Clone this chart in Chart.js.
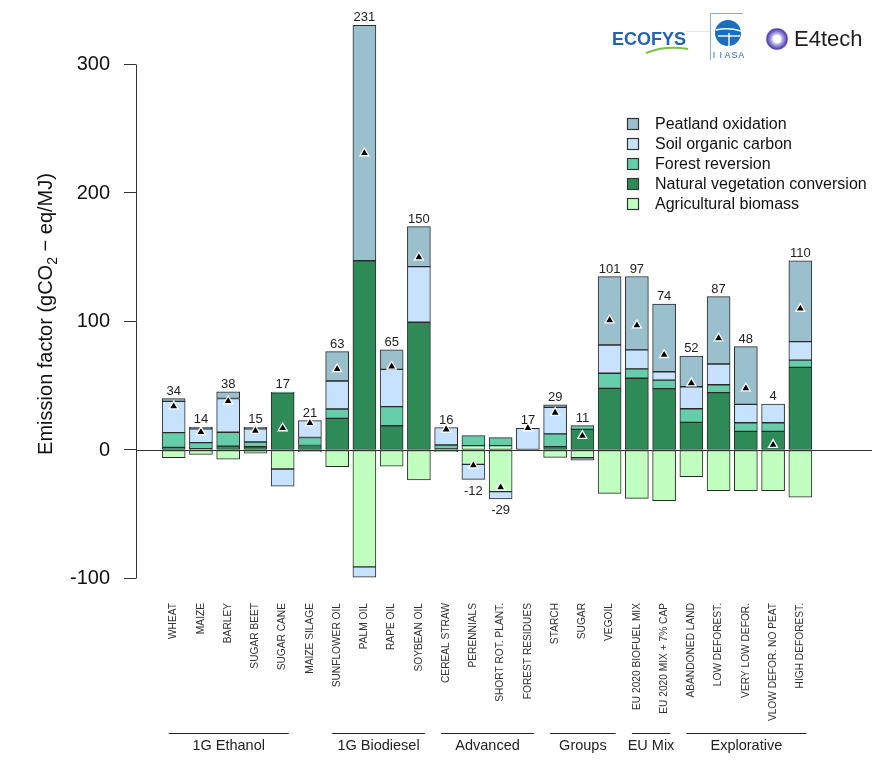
<!DOCTYPE html>
<html><head><meta charset="utf-8">
<script src="https://cdn.jsdelivr.net/npm/chart.js@4.4.0/dist/chart.umd.min.js"></script>
<style>html,body{margin:0;padding:0;background:#fff}#wrap{width:894px;height:763px;position:relative}</style>
</head><body><div id="wrap"><canvas id="c"></canvas></div>
<script>
const categories = ["WHEAT","MAIZE","BARLEY","SUGAR BEET","SUGAR CANE","MAIZE SILAGE","SUNFLOWER OIL","PALM OIL","RAPE OIL","SOYBEAN OIL","CEREAL STRAW","PERENNIALS","SHORT ROT. PLANT.","FOREST RESIDUES","STARCH","SUGAR","VEGOIL","EU 2020 BIOFUEL MIX","EU 2020 MIX + 7% CAP","ABANDONED LAND","LOW DEFOREST.","VERY LOW DEFOR.","VLOW DEFOR. NO PEAT","HIGH DEFOREST."];
const agriculturalBiomass = [-6.0,-3.4,-7.2,-2.4,-14.8,-1.3,-13.0,-91.0,-12.5,-23.3,-1.3,-11.2,-32.4,null,-5.7,-6.0,-33.7,-37.6,-39.4,-20.8,-31.6,-31.6,-31.6,-36.8];
const agriculturalBiomassGain = [null,null,null,null,null,null,null,null,null,null,null,3.4,3.4,null,null,null,null,null,null,null,null,null,null,null];
const naturalVegetationConversion = [2.0,1.0,3.0,2.5,44.5,3.5,24.6,147.3,18.9,99.4,0.8,null,null,null,2.6,16.0,48.0,55.8,47.7,21.5,44.6,14.5,14.5,64.3];
const forestReversion = [11.5,4.7,10.8,3.7,0.6,6.2,7.3,null,14.8,null,3.1,7.8,6.2,null,9.9,3.0,11.7,7.3,6.7,10.6,6.2,6.7,6.7,5.7];
const soilOrganicCarbon = [24.3,10.8,26.3,10.3,-13.3,13.1,21.8,-8.0,29.1,43.3,13.5,-11.7,-5.7,16.9,20.8,-2.0,22.0,14.8,6.5,17.1,16.1,14.3,14.5,14.3];
const peatlandOxidation = [2.2,1.3,5.2,1.2,null,null,22.8,183.2,15.2,31.1,null,null,null,null,1.8,null,53.2,57.1,52.7,23.9,52.4,44.9,null,63.0];
const netValues = [34,14,38,15,17,21,63,231,65,150,16,-12,-29,17,29,11,101,97,74,52,87,48,4,110];
const yTickValues = [-100,0,100,200,300];
const groupNames = ["1G Ethanol","1G Biodiesel","Advanced","Groups","EU Mix","Explorative"];
const groupStart = [0,6,10,14,17,19];
const groupEnd = [4,9,13,16,18,23];
const legendNames = ["Peatland oxidation","Soil organic carbon","Forest reversion","Natural vegetation conversion","Agricultural biomass"];

const COL = {peat:'#9AC0CD', soil:'#C6E2FF', forest:'#66CDAA', natveg:'#2E8B57', agri:'#C1FFC1'};
const legendColors = [COL.peat, COL.soil, COL.forest, COL.natveg, COL.agri];
const FONT = '"Liberation Sans", Arial, sans-serif';
const seriesAll = [agriculturalBiomass, agriculturalBiomassGain, naturalVegetationConversion, forestReversion, soilOrganicCarbon, peatlandOxidation];

function toPts(arr){ return arr.map((v,i)=>({x:i,y:v})).filter(d=>d.y!==null); }
function mkBar(label, arr, color){
  return {label, data: toPts(arr), backgroundColor: color, borderColor:'#2a2a2a', borderWidth:1,
    borderSkipped:false, barThickness:23, clip:false};
}

const decor = {
  id:'decor',
  beforeDatasetDraw(chart, args){
    if (args.meta.type !== 'scatter') return;
    const {ctx, chartArea:a, scales:{y}} = chart;
    const y0 = Math.round(y.getPixelForValue(0)) + 0.5;
    ctx.save(); ctx.strokeStyle='#333'; ctx.lineWidth=1.2;
    ctx.beginPath(); ctx.moveTo(a.left, y0); ctx.lineTo(a.right, y0); ctx.stroke(); ctx.restore();
  },
  afterDraw(chart){
    const {ctx, chartArea:a, scales:{x, y}} = chart;
    ctx.save();
    // y axis line
    ctx.strokeStyle='#333'; ctx.lineWidth=1;
    ctx.beginPath();
    ctx.moveTo(a.left+0.5, y.getPixelForValue(yTickValues[yTickValues.length-1]));
    ctx.lineTo(a.left+0.5, y.getPixelForValue(yTickValues[0]));
    ctx.stroke();
    // net labels
    ctx.fillStyle='#222'; ctx.font='13px '+FONT; ctx.textAlign='center';
    netValues.forEach((n,i)=>{
      let pos=0, neg=0;
      seriesAll.forEach(s=>{ const v=s[i]; if(v!==null){ if(v>0) pos+=v; else neg+=v; } });
      const px = x.getPixelForValue(i);
      if (n >= 0){ ctx.textBaseline='alphabetic'; ctx.fillText(String(n), px, y.getPixelForValue(pos)-4); }
      else { ctx.textBaseline='top'; ctx.fillText(String(n), px, y.getPixelForValue(neg)+5); }
    });
    // groups
    ctx.strokeStyle='#222'; ctx.lineWidth=1.2; ctx.font='14.5px '+FONT; ctx.textBaseline='middle';
    groupNames.forEach((g,k)=>{
      const x1 = x.getPixelForValue(groupStart[k]) - 5, x2 = x.getPixelForValue(groupEnd[k]) + 6;
      ctx.beginPath(); ctx.moveTo(x1, 733.5); ctx.lineTo(x2, 733.5); ctx.stroke();
      ctx.fillText(g, (x1+x2)/2, 746);
    });
    // legend
    ctx.textAlign='left'; ctx.font='16px '+FONT; ctx.fillStyle='#111';
    legendNames.forEach((nm,k)=>{
      const cy = 124 + k*20;
      ctx.fillStyle=legendColors[k]; ctx.fillRect(627, cy-6, 12, 12);
      ctx.strokeStyle='#333'; ctx.lineWidth=1.2; ctx.strokeRect(627.5, cy-5.5, 11, 11);
      ctx.fillStyle='#111'; ctx.fillText(nm, 655, cy+1);
    });
    // y axis title
    ctx.save();
    ctx.translate(45, 314); ctx.rotate(-Math.PI/2);
    const p1='Emission factor (gCO', p2='2', p3=' \u2212 eq/MJ)';
    ctx.font='20px '+FONT; const w1=ctx.measureText(p1).width, w3=ctx.measureText(p3).width;
    ctx.font='14px '+FONT; const w2=ctx.measureText(p2).width;
    let sx = -(w1+w2+w3)/2;
    ctx.fillStyle='#111'; ctx.textAlign='left'; ctx.textBaseline='alphabetic';
    ctx.font='20px '+FONT; ctx.fillText(p1, sx, 7); sx+=w1;
    ctx.font='14px '+FONT; ctx.fillText(p2, sx, 12); sx+=w2;
    ctx.font='20px '+FONT; ctx.fillText(p3, sx, 7);
    ctx.restore();
    // logos
    ctx.textBaseline='middle'; ctx.textAlign='left';
    ctx.fillStyle='#2262b4'; ctx.font='bold 18px '+FONT; ctx.fillText('ECOFYS', 612, 40);
    ctx.strokeStyle='#7cc242'; ctx.lineWidth=2;
    ctx.beginPath(); ctx.moveTo(646, 53); ctx.quadraticCurveTo(665, 45, 688, 49); ctx.stroke();
    ctx.strokeStyle='#dfe6ee'; ctx.lineWidth=1;
    ctx.beginPath(); ctx.moveTo(686, 31.5); ctx.lineTo(710, 31.5); ctx.stroke();
    ctx.strokeStyle='#7fb0dc'; ctx.lineWidth=1;
    ctx.beginPath(); ctx.moveTo(710.5, 60); ctx.lineTo(710.5, 13.5); ctx.lineTo(743, 13.5); ctx.stroke();
    ctx.fillStyle='#1a6dc4'; ctx.beginPath(); ctx.arc(728, 33, 13, 0, Math.PI*2); ctx.fill();
    ctx.strokeStyle='#fff'; ctx.lineWidth=1.4;
    ctx.beginPath(); ctx.moveTo(716, 30); ctx.quadraticCurveTo(728, 27, 741, 31); ctx.stroke();
    ctx.beginPath(); ctx.moveTo(718, 36); ctx.lineTo(740, 36); ctx.stroke();
    ctx.beginPath(); ctx.moveTo(729, 33); ctx.lineTo(729, 46); ctx.stroke();
    ctx.fillStyle='#1a6dc4'; ctx.font='9px '+FONT; ctx.textAlign='center';
    ['I','I','A','S','A'].forEach((c,k)=>ctx.fillText(c, 714 + k*6.8, 56));
    const grd = ctx.createRadialGradient(777, 39, 3, 777, 39, 12);
    grd.addColorStop(0,'#ffffff'); grd.addColorStop(0.45,'#8f86d8'); grd.addColorStop(0.8,'#4b3fa6'); grd.addColorStop(1,'rgba(255,255,255,0)');
    ctx.fillStyle=grd; ctx.beginPath(); ctx.arc(777, 39, 12, 0, Math.PI*2); ctx.fill();
    ctx.fillStyle='#fff'; ctx.beginPath(); ctx.arc(777, 39, 4, 0, Math.PI*2); ctx.fill();
    ctx.textAlign='left'; ctx.fillStyle='#1e1e1e'; ctx.font='22px '+FONT; ctx.fillText('E4tech', 794, 40);
    ctx.restore();
  }
};

new Chart(document.getElementById('c'), {
  type:'bar',
  data:{ datasets:[
    mkBar('Agricultural biomass', agriculturalBiomass, COL.agri),
    mkBar('Agricultural biomass', agriculturalBiomassGain, COL.agri),
    mkBar('Natural vegetation conversion', naturalVegetationConversion, COL.natveg),
    mkBar('Forest reversion', forestReversion, COL.forest),
    mkBar('Soil organic carbon', soilOrganicCarbon, COL.soil),
    mkBar('Peatland oxidation', peatlandOxidation, COL.peat),
    {type:'scatter', label:'Net', data: netValues.map((v,i)=>({x:i,y:v})), pointStyle:'triangle',
     pointRadius:5.2, pointHoverRadius:5.2, backgroundColor:'#000', borderColor:'#fff', borderWidth:1.3,
     order:-1, stack:'net', clip:false}
  ]},
  options:{
    responsive:true, maintainAspectRatio:false, animation:false, events:[],
    layout:{padding:{top:28,left:0,right:22,bottom:0}},
    plugins:{legend:{display:false}, tooltip:{enabled:false}},
    scales:{
      x:{type:'linear', stacked:true, offset:false, min:-1.383, max:25.63,
         grid:{display:false, drawTicks:false}, border:{display:false},
         afterBuildTicks:s=>{ s.ticks = categories.map((c,i)=>({value:i})); },
         afterFit:s=>{ s.height = 173; },
         ticks:{autoSkip:false, minRotation:90, maxRotation:90, padding:13, color:'#333',
                font:{family:FONT, size:10.2}, callback:v=>categories[v] ?? ''}},
      y:{stacked:true, min:-108.95, max:328.4,
         afterBuildTicks:s=>{ s.ticks = yTickValues.map(v=>({value:v})); },
         afterFit:s=>{ s.width = 136; },
         grid:{drawOnChartArea:false, drawTicks:true, tickLength:12, color:'#333', lineWidth:1},
         border:{display:false},
         ticks:{padding:14, color:'#111', font:{family:FONT, size:20}, callback:v=>String(v)}}
    }
  },
  plugins:[decor]
});
</script></body></html>
